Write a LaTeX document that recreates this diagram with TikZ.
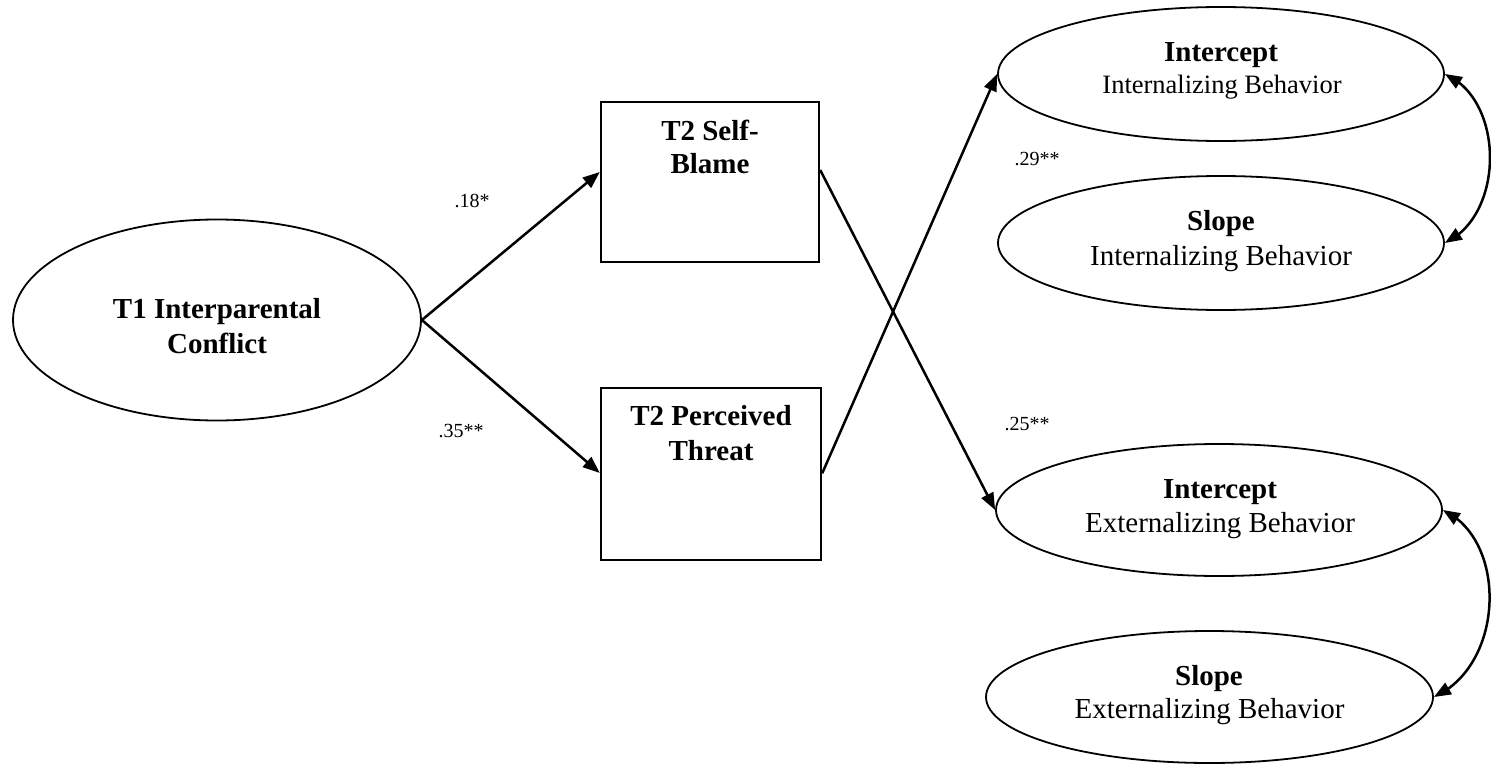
\documentclass[tikz,border=0pt]{standalone}
\usepackage{fontspec}
\setmainfont{Liberation Serif}
\usetikzlibrary{arrows.meta,shapes.geometric,bending}
\begin{document}
\begin{tikzpicture}[x=1pt,y=-1pt,
  latent/.style={ellipse, draw, line width=1.8pt, inner sep=0pt},
  obsbox/.style={rectangle, draw, line width=2.4pt, inner sep=0pt},
  lbl/.style={anchor=base, inner sep=0pt, font=\fontsize{29}{35}\selectfont},
  slbl/.style={anchor=base, inner sep=0pt, font=\fontsize{26.5}{32}\selectfont},
  blbl/.style={anchor=base, inner sep=0pt, font=\fontsize{29}{35}\selectfont\bfseries},
  coef/.style={anchor=base, inner sep=0pt, font=\fontsize{20}{24}\selectfont},
  pathar/.style={line width=2.5pt, -{Triangle[length=17pt,width=13pt]}},
  cov/.style={line width=2.5pt, {Triangle[length=17pt,width=13pt]}-{Triangle[length=17pt,width=13pt]}}
]
\useasboundingbox (0,0) rectangle (1491,768);

% shapes
\node[latent, minimum width=408pt, minimum height=201pt] (t1) at (217,320) {};
\node[obsbox, minimum width=218pt, minimum height=160pt] (sb) at (710,182) {};
\node[obsbox, minimum width=220pt, minimum height=172pt] (pt) at (711,474) {};
\node[latent, minimum width=446pt, minimum height=134pt] (iint) at (1221,74) {};
\node[latent, minimum width=446pt, minimum height=134pt] (sint) at (1221,243) {};
\node[latent, minimum width=446pt, minimum height=132pt] (iext) at (1219,510) {};
\node[latent, minimum width=447pt, minimum height=132pt] (sext) at (1209.5,697) {};

% texts
\node[blbl] (t1a) at (217,318) {T1 Interparental};
\node[blbl] (t1b) at (217,353) {Conflict};
\node[blbl] (sba) at (710,140) {T2 Self-};
\node[blbl] (sbb) at (710,173) {Blame};
\node[blbl] (pta) at (711,425) {T2 Perceived};
\node[blbl] (ptb) at (711,460) {Threat};
\node[blbl] (iinta) at (1221,62) {Intercept};
\node[slbl] (iintb) at (1222,93) {Internalizing Behavior};
\node[blbl] (sinta) at (1221,230) {Slope};
\node[lbl] (sintb) at (1221,265) {Internalizing Behavior};
\node[blbl] (iexta) at (1220,498) {Intercept};
\node[lbl] (iextb) at (1220,532) {Externalizing Behavior};
\node[blbl] (sexta) at (1209,685) {Slope};
\node[lbl] (sextb) at (1209.5,718) {Externalizing Behavior};

% coefficients
\node[coef] (c1) at (472,207) {.18*};
\node[coef] (c2) at (461,437) {.35**};
\node[coef] (c3) at (1037,165) {.29**};
\node[coef] (c4) at (1027,430) {.25**};

% connectors
\draw[pathar] (t1.east) -- ([yshift=10pt]sb.west);
\draw[pathar] (t1.east) -- ([yshift=1pt]pt.west);
\draw[pathar] ([yshift=12pt]sb.east) -- (iext.west);
\draw[pathar] ([yshift=0.7pt]pt.east) -- (iint.west);
\draw[cov] (iint.east) .. controls (1505,100) and (1505,215) .. (sint.east);
\draw[cov] (iext.east) .. controls (1508,540) and (1505,665) .. (sext.east);
\end{tikzpicture}
\end{document}
